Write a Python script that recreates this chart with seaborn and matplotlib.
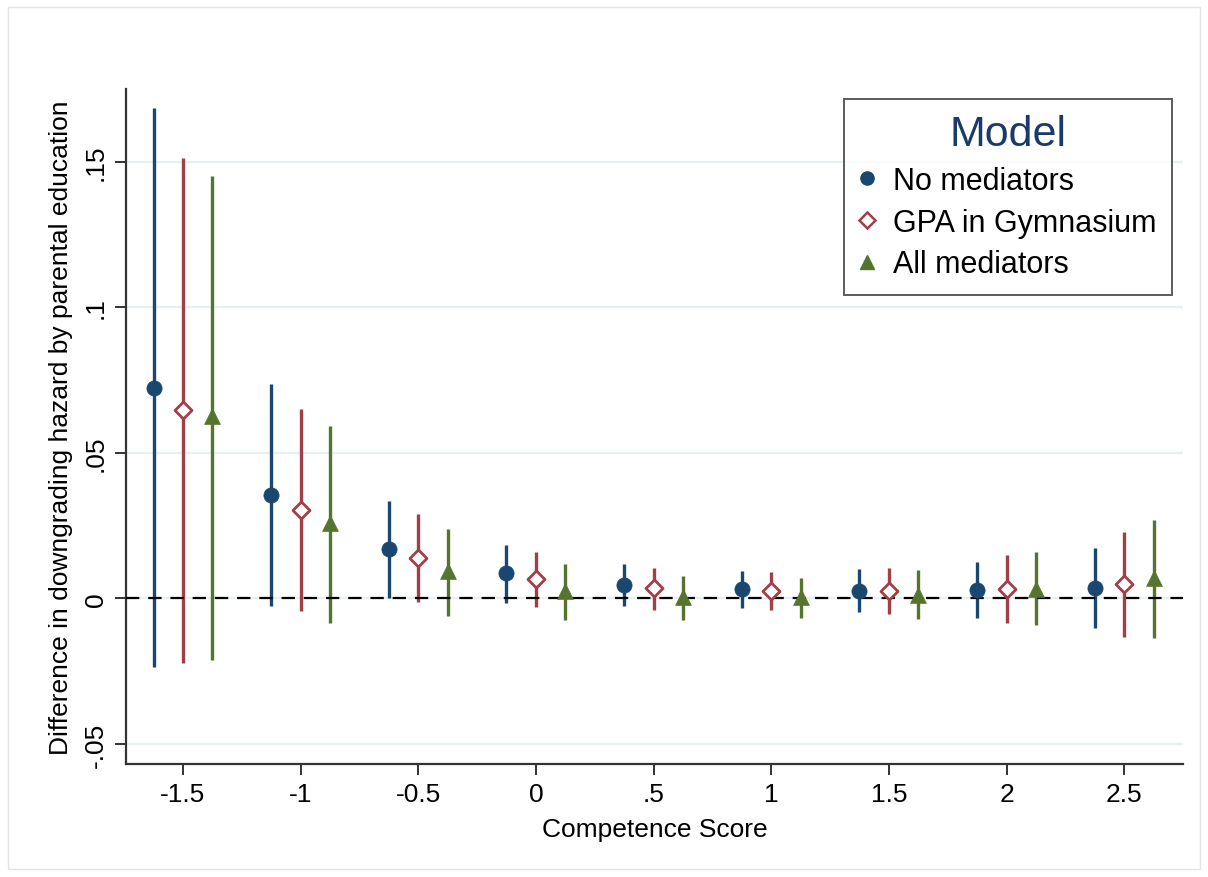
import matplotlib
matplotlib.use("Agg")
import matplotlib.pyplot as plt
import matplotlib.patches as mpatches
from matplotlib.lines import Line2D
import numpy as np
import pandas as pd
import seaborn as sns

# Competence score bins and model estimates
scores = [-1.5, -1.0, -0.5, 0.0, 0.5, 1.0, 1.5, 2.0, 2.5]
tick_labels = ["-1.5", "-1", "-0.5", "0", ".5", "1", "1.5", "2", "2.5"]
models = ["No mediators", "GPA in Gymnasium", "All mediators"]

est_none = [0.0722, 0.0356, 0.0171, 0.0086, 0.0047, 0.0031, 0.0027, 0.0030, 0.0036]
lo_none = [-0.0237, -0.0026, 0.0002, -0.0015, -0.0026, -0.0032, -0.0046, -0.0069, -0.0102]
hi_none = [0.1685, 0.0737, 0.0334, 0.0183, 0.0118, 0.0094, 0.0100, 0.0126, 0.0172]

est_gpa = [0.0646, 0.0304, 0.0139, 0.0065, 0.0034, 0.0025, 0.0025, 0.0033, 0.0051]
lo_gpa = [-0.0223, -0.0043, -0.0013, -0.0031, -0.0040, -0.0040, -0.0055, -0.0084, -0.0132]
hi_gpa = [0.1514, 0.0651, 0.0291, 0.0159, 0.0105, 0.0090, 0.0104, 0.0149, 0.0228]

est_all = [0.0625, 0.0259, 0.0094, 0.0025, 0.0004, 0.0005, 0.0010, 0.0031, 0.0070]
lo_all = [-0.0211, -0.0083, -0.0061, -0.0074, -0.0074, -0.0068, -0.0070, -0.0092, -0.0135]
hi_all = [0.1452, 0.0592, 0.0237, 0.0118, 0.0077, 0.0071, 0.0096, 0.0158, 0.0268]

offsets = [-0.125, 0.0, 0.125]
colors = ["#1a476f", "#a23f46", "#55752f"]
markers = ["o", "D", "^"]

frames = []
for m, off, est, lo, hi in zip(models, offsets,
                                [est_none, est_gpa, est_all],
                                [lo_none, lo_gpa, lo_all],
                                [hi_none, hi_gpa, hi_all]):
    frames.append(pd.DataFrame({
        "score": scores,
        "x": np.array(scores) + off,
        "est": est, "lo": lo, "hi": hi, "model": m,
    }))
df = pd.concat(frames, ignore_index=True)

sns.set_style("white")
plt.rcParams["font.family"] = ["Liberation Sans", "DejaVu Sans"]
plt.rcParams["text.color"] = "black"
plt.rcParams["axes.labelcolor"] = "black"
plt.rcParams["xtick.color"] = "black"
plt.rcParams["ytick.color"] = "black"

fig = plt.figure(figsize=(12.08, 8.78), dpi=100)
ax = fig.add_axes([0.1043, 0.1287, 0.8750, 0.7688])

# horizontal grid
for yv in [-0.05, 0, 0.05, 0.1, 0.15]:
    ax.axhline(yv, color="#e6eff1", lw=1.6, zorder=0)

# confidence intervals
for m, c in zip(models, colors):
    sub = df[df["model"] == m]
    ax.vlines(sub["x"], sub["lo"], sub["hi"], color=c, lw=2.4, zorder=2)

ax.axhline(0, color="black", lw=1.6, ls=(0, (6, 4)), zorder=3)

# point estimates
for m, c, mk in zip(models, colors, markers):
    sub = df[df["model"] == m]
    if mk == "D":
        sns.scatterplot(data=sub, x="x", y="est", ax=ax, marker="D", s=75,
                        facecolor="white", edgecolor=c, linewidth=2.0,
                        zorder=4, legend=False)
    else:
        sns.scatterplot(data=sub, x="x", y="est", ax=ax, marker=mk,
                        s=130 if mk == "^" else 120, color=c, edgecolor=c,
                        linewidth=0.5, zorder=4, legend=False)

ax.set_xlim(-1.742, 2.75)
ax.set_ylim(-0.0569, 0.175)

ax.set_xticks(scores)
ax.set_xticklabels(tick_labels, fontsize=19)
ax.set_yticks([-0.05, 0, 0.05, 0.1, 0.15])
ax.set_yticklabels(["-.05", "0", ".05", ".1", ".15"], fontsize=19,
                   rotation=90, va="center")

ax.set_xlabel("Competence Score", fontsize=19, labelpad=8)
ax.set_ylabel("Difference in downgrading hazard by parental education",
              fontsize=19, labelpad=8)

for s in ["top", "right"]:
    ax.spines[s].set_visible(False)
for s in ["left", "bottom"]:
    ax.spines[s].set_color("#333333")
    ax.spines[s].set_linewidth(1.6)
ax.tick_params(axis="both", direction="out", length=8, width=1.4,
               color="#333333", labelcolor="black", left=True, bottom=True,
               pad=5)

handles = [
    Line2D([], [], marker="o", ls="", color=colors[0], markersize=9.5),
    Line2D([], [], marker="D", ls="", markerfacecolor="white",
           markeredgecolor=colors[1], markeredgewidth=1.8, markersize=8),
    Line2D([], [], marker="^", ls="", color=colors[2], markersize=10.5),
]
leg = ax.legend(handles, models, title="Model", loc="upper right",
                bbox_to_anchor=(0.9896, 0.985), fontsize=22, title_fontsize=31,
                frameon=True, fancybox=False, edgecolor="#333333",
                handletextpad=0.6, handlelength=0.5, borderpad=0.5,
                labelspacing=0.38, borderaxespad=0)
leg.get_frame().set_linewidth(1.4)
leg.get_title().set_color("#1a3a6b")
for t in leg.get_texts():
    t.set_color("black")

# thin outer frame
fig.patches.append(mpatches.Rectangle((0.007, 0.009), 0.986, 0.982,
                                      transform=fig.transFigure, fill=False,
                                      edgecolor="#e4e4e4", lw=1.0))

fig.savefig("out.png", dpi=100, facecolor="white")
